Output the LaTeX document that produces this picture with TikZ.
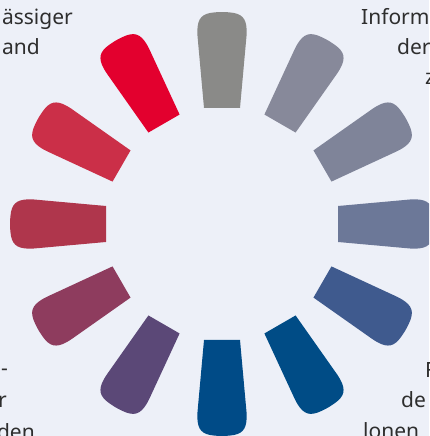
\documentclass[tikz,border=0pt]{standalone}
\usepackage{fontspec}
\setmainfont{Noto Sans}
\definecolor{bgcol}{HTML}{EDF0F8}
\definecolor{textgray}{HTML}{2E2E2E}
\definecolor{p0}{HTML}{8A8A88}
\definecolor{p1}{HTML}{87899A}
\definecolor{p2}{HTML}{7F8499}
\definecolor{p3}{HTML}{6C7898}
\definecolor{p4}{HTML}{3F5A8E}
\definecolor{p5}{HTML}{004C86}
\definecolor{p6}{HTML}{004B87}
\definecolor{p7}{HTML}{5B4877}
\definecolor{p8}{HTML}{8E3C5E}
\definecolor{p9}{HTML}{AF364C}
\definecolor{p10}{HTML}{CB2F48}
\definecolor{p11}{HTML}{E3002E}
\begin{document}
\begin{tikzpicture}[x=1pt,y=1pt,
  petal/.pic={\fill[pic actions] (-18,116) -- (-24.5,188) .. controls (-25.5,203) and (-22,209) .. (-12,211) .. controls (-4,212.3) and (4,212.3) .. (12,211) .. controls (22,209) and (25.5,203) .. (24.5,188) -- (18,116) -- cycle;},
  lbl/.style={font=\fontsize{21}{30}\selectfont, text=textgray, inner sep=0pt}]
\fill[bgcol] (0,0) rectangle (429,436);
\useasboundingbox (0,0) rectangle (429,436);
\clip (0,0) rectangle (429,436);
\foreach \i in {0,...,11}
  \pic[fill=p\i, rotate=-30*\i] at (222,212) {petal};
\node[lbl, anchor=base east] (tl1) at (73, 411) {ässiger};
\node[lbl, anchor=base east] (tl2) at (40, 381) {and};
\node[lbl, anchor=base west] (tr1) at (361, 411) {Inform};
\node[lbl, anchor=base west] (tr2) at (397, 381) {der};
\node[lbl, anchor=base west] (tr3) at (425, 351) {z};
\node[lbl, anchor=base east] (bl1) at (8, 60) {-};
\node[lbl, anchor=base east] (bl2) at (7, 28) {r};
\node[lbl, anchor=base east] (bl3) at (35, -4) {den};
\node[lbl, anchor=base west] (br1) at (425, 58) {F};
\node[lbl, anchor=base west] (br2) at (401, 28) {de};
\node[lbl, anchor=base west] (br3) at (363, -2) {lonen};
\end{tikzpicture}
\end{document}
